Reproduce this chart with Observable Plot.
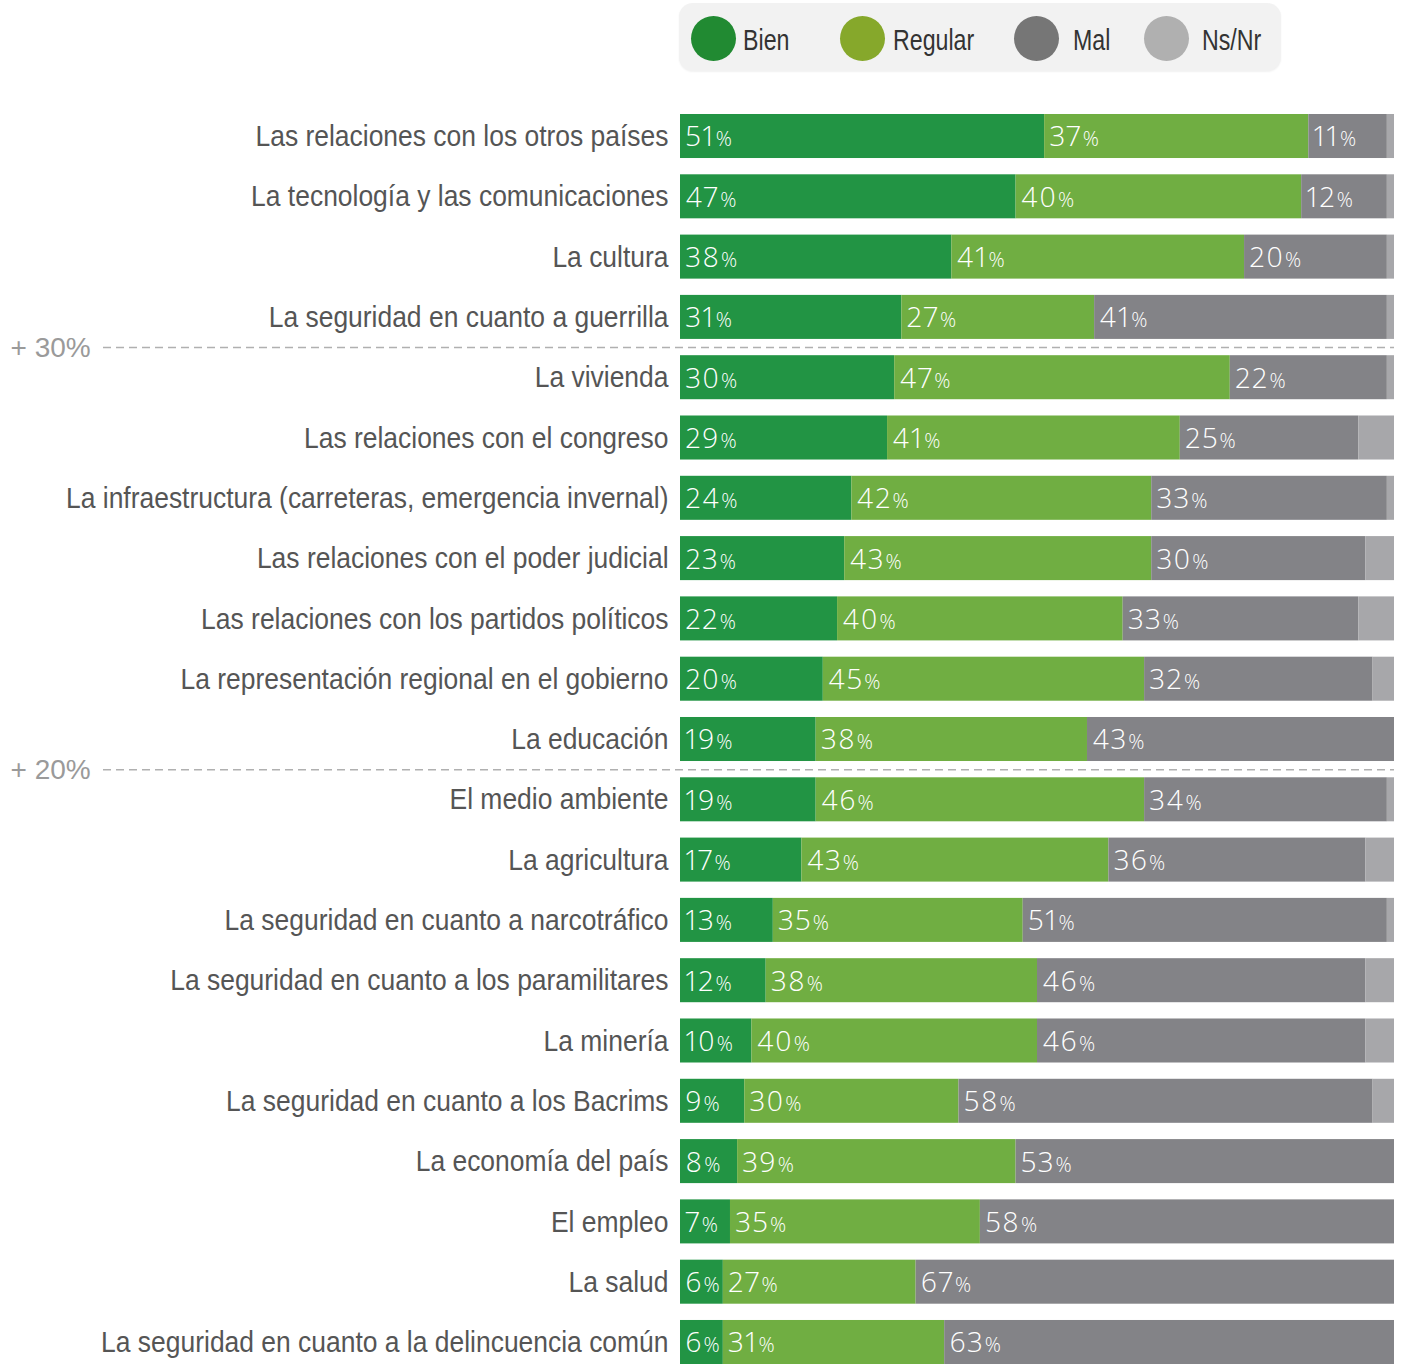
<!DOCTYPE html>
<html>
<head>
<meta charset="utf-8">
<script src="https://cdn.jsdelivr.net/npm/d3@7"></script>
<script src="https://cdn.jsdelivr.net/npm/@observablehq/plot@0.6"></script>
<style>
  body { margin: 0; background: #fff; }
  #wrap { position: relative; width: 1408px; height: 1364px; overflow: hidden; }
  #legend { position: absolute; left: 679px; top: 3px; width: 602px; height: 68px; background: #f2f2f2; border-radius: 14px; box-shadow: 0 1px 2px rgba(0,0,0,0.06); }
  .dot { position: absolute; top: 13px; width: 45px; height: 45px; border-radius: 50%; }
  .lt { position: absolute; top: 3px; line-height: 68px; white-space: nowrap; font-family: "Liberation Sans", Arimo, sans-serif; font-size: 29px; color: #333; transform-origin: 0 50%; }
  .vals text { font-variant-numeric: proportional-nums; }
</style>
</head>
<body>
<div id="wrap"><div id="legend"></div></div>
<script>
const categories = [
  "Las relaciones con los otros países",
  "La tecnología y las comunicaciones",
  "La cultura",
  "La seguridad en cuanto a guerrilla",
  "La vivienda",
  "Las relaciones con el congreso",
  "La infraestructura (carreteras, emergencia invernal)",
  "Las relaciones con el poder judicial",
  "Las relaciones con los partidos políticos",
  "La representación regional en el gobierno",
  "La educación",
  "El medio ambiente",
  "La agricultura",
  "La seguridad en cuanto a narcotráfico",
  "La seguridad en cuanto a los paramilitares",
  "La minería",
  "La seguridad en cuanto a los Bacrims",
  "La economía del país",
  "El empleo",
  "La salud",
  "La seguridad en cuanto a la delincuencia común"
];
const bien    = [51, 47, 38, 31, 30, 29, 24, 23, 22, 20, 19, 19, 17, 13, 12, 10, 9, 8, 7, 6, 6];
const regular = [37, 40, 41, 27, 47, 41, 42, 43, 40, 45, 38, 46, 43, 35, 38, 40, 30, 39, 35, 27, 31];
const mal     = [11, 12, 20, 41, 22, 25, 33, 30, 33, 32, 43, 34, 36, 51, 46, 46, 58, 53, 58, 67, 63];
const nsnr    = [1, 1, 1, 1, 1, 5, 1, 4, 5, 3, 0, 1, 4, 1, 4, 4, 3, 0, 0, 0, 0];
const series = ["Bien", "Regular", "Mal", "Ns/Nr"];
const barColors = ["#229444", "#70ae42", "#838387", "#a7a7aa"];
const legendColors = ["#218a32", "#86a82b", "#767676", "#b0b0b0"];
const legendDotX = [691, 840, 1014, 1144];
const legendTextX = [743, 893, 1073, 1202];
const guideRows = ["La vivienda", "El medio ambiente"];
const guideLabels = ["+ 30%", "+ 20%"];

// long table with stacked extents
const segs = [];
categories.forEach((c, i) => {
  const vals = [bien[i], regular[i], mal[i], nsnr[i]];
  let acc = 0;
  vals.forEach((v, k) => {
    segs.push({category: c, series: series[k], value: v, x1: acc, x2: acc + v});
    acc += v;
  });
});
const labelled = segs.filter(d => d.series !== "Ns/Nr");

const H = 1364, MT = 114, MB = 0, PAD = 0.27;
const step = (H - MT - MB) / (categories.length - PAD);
const labelFont = "'Liberation Sans', Arimo, sans-serif";

const chart = Plot.plot({
  width: 1408,
  height: H,
  marginLeft: 680,
  marginRight: 14,
  marginTop: MT,
  marginBottom: MB,
  style: {background: "transparent", color: "#555", fontFamily: "'Open Sans', sans-serif"},
  x: {domain: [0, 100], axis: null},
  y: {domain: categories, paddingInner: PAD, paddingOuter: 0, round: false, axis: null},
  color: {domain: series, range: barColors},
  marks: [
    Plot.ruleY(guideRows, {y: d => d, dy: -step / 2, stroke: "#b0b0b0", strokeWidth: 1.5, strokeDasharray: "8,5", className: "guides"}),
    Plot.text(guideRows, {y: d => d, dy: -step / 2, frameAnchor: "left", dx: -670, text: (d, i) => guideLabels[i], textAnchor: "start", fill: "#9a9a9a", fontSize: 28, fontFamily: labelFont}),
    Plot.barX(segs, {x1: "x1", x2: "x2", y: "category", fill: "series"}),
    Plot.text(labelled, {x: "x1", y: "category", text: d => d.value + "%", dx: 5, dy: 1, textAnchor: "start", fill: "white", fontSize: 28, fontWeight: 300, className: "vals"}),
    Plot.axisY({tickSize: 0, tickPadding: 12, fontSize: 30, fontFamily: labelFont, label: null, className: "ylab"})
  ]
});
document.getElementById("wrap").prepend(chart);
chart.style.position = "absolute";
chart.style.left = "0";
chart.style.top = "0";

// extend guide rules into left margin
chart.querySelectorAll(".guides line").forEach(l => l.setAttribute("x1", 103));

// smaller percent sign, wider digit spacing
chart.querySelectorAll(".vals text").forEach(t => {
  const s = t.textContent;
  const num = s.replace("%", "");
  while (t.firstChild) t.removeChild(t.firstChild);
  const a = document.createElementNS("http://www.w3.org/2000/svg", "tspan");
  a.textContent = num;
  a.setAttribute("letter-spacing", "1.8");
  const b = document.createElementNS("http://www.w3.org/2000/svg", "tspan");
  b.textContent = "%";
  b.setAttribute("font-size", "20");
  b.setAttribute("dx", "0.5");
  t.appendChild(a); t.appendChild(b);
});

// condensed look for category labels (target width of first label)
let labs = Array.from(chart.querySelectorAll('[aria-label="y-axis tick label"] text'));
if (!labs.length) labs = Array.from(chart.querySelectorAll(".ylab text"));
let k = 0.85;
if (labs.length) {
  const w0 = labs[0].getComputedTextLength();
  if (w0 > 0) k = 413 / w0;
  labs.forEach(t => {
    const w = t.getComputedTextLength();
    t.setAttribute("textLength", (w * k).toFixed(1));
    t.setAttribute("lengthAdjust", "spacingAndGlyphs");
  });
}

// legend
const lg = document.getElementById("legend");
series.forEach((s, i) => {
  const d = document.createElement("div");
  d.className = "dot";
  d.style.left = (legendDotX[i] - 679) + "px";
  d.style.background = legendColors[i];
  lg.appendChild(d);
  const t = document.createElement("div");
  t.className = "lt";
  t.style.left = (legendTextX[i] - 679) + "px";
  t.style.transform = "scaleX(0.80)";
  t.textContent = s;
  lg.appendChild(t);
});
</script>
</body>
</html>
